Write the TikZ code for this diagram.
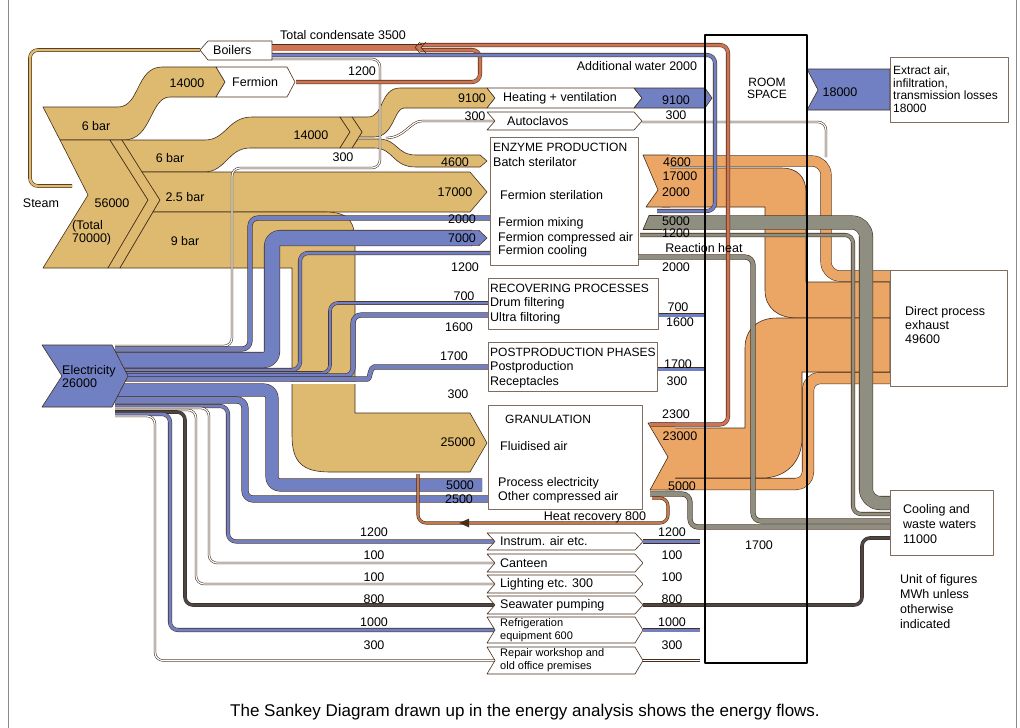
\documentclass[tikz,border=0pt]{standalone}
\usepackage{fontspec}
\setmainfont{Liberation Sans}
\usetikzlibrary{decorations.markings}
\definecolor{steamtan}{RGB}{221,186,112}
\definecolor{elecblue}{RGB}{113,128,194}
\definecolor{exhaust}{RGB}{235,166,102}
\definecolor{coolgray}{RGB}{142,143,128}
\definecolor{condred}{RGB}{206,116,82}
\definecolor{edgebrown}{RGB}{70,45,28}
\definecolor{seadark}{RGB}{72,72,74}
\begin{document}
\begin{tikzpicture}[x=1pt,y=-1pt,line join=round,
  font=\fontsize{12.5}{13}\selectfont,
  band/.style={draw=edgebrown,line width=.6pt},
  tanband/.style={band,fill=steamtan},
  elecband/.style={band,fill=elecblue},
  exband/.style={band,fill=exhaust},
  flow/.style 2 args={draw=edgebrown,line width=.55pt,double=#1,double distance=#2,rounded corners=8pt},
  tagbox/.style={band,fill=white},
  box/.style={draw=edgebrown!70,fill=white,line width=.7pt,inner sep=0pt,anchor=north west},
  txt/.style={inner sep=0pt,anchor=west,align=left},
  head/.style={txt,font=\fontsize{12}{13}\selectfont},
  num/.style={inner sep=0pt}]
\useasboundingbox (0,0) rectangle (1020,728);
\fill[white] (0,0) rectangle (1020,728);
\draw[black!45] (8,0) -- (8,728) (1016,0) -- (1016,728);

% steam 70000
\draw[flow={steamtan}{2.5}] (200,50) -- (30,50) -- (30,186) -- (72,186);
\draw[tanband] (43,107) -- (118,107) .. controls (140,107) and (136,67) .. (162,67) -- (216,67) -- (225,82) -- (216,97) -- (170,97) .. controls (150,97) and (152,140) .. (124,140) -- (60,140) -- cycle;
\draw[tanband] (60,140) -- (110,140) -- (148,200) -- (108,268) -- (43,268) -- (88,195) -- cycle;
\draw[tanband] (110,140) -- (122,140) -- (160,200) -- (120,268) -- (108,268) -- (148,200) -- cycle;
\draw[tanband] (122,140) -- (205,140) .. controls (226,140) and (228,117) .. (252,117) -- (340,117) -- (350,132) -- (340,148) -- (250,148) .. controls (228,148) and (226,172) .. (204,172) -- (142,172) -- cycle;
\draw[tanband] (352,117) -- (368,117) .. controls (384,117) and (380,88) .. (400,88) -- (487,88) -- (495,98) -- (487,108) -- (404,108) .. controls (394,108) and (394,137) .. (374,137) -- (359,137) -- (362,132) -- cycle;
\draw[tanband] (358,139) -- (378,139) .. controls (398,139) and (396,155) .. (416,155) -- (480,155) -- (487,161) -- (480,167) -- (416,167) .. controls (392,167) and (394,148) .. (374,148) -- (352,148) -- cycle;
\draw[tanband] (340,117) -- (352,117) -- (362,132) -- (352,148) -- (340,148) -- (350,132) -- cycle;
\draw[tanband] (142,172) -- (470,172) -- (487,192) -- (470,212) -- (153,212) -- (160,200) -- cycle;
\draw[tanband] (153,212) -- (325,212) .. controls (350,212) and (355,222) .. (355,245) -- (355,413) -- (470,413) -- (487,443) -- (470,472) -- (330,472) .. controls (302,472) and (292,462) .. (292,435) -- (292,268) -- (120,268) -- cycle;
\draw[flow={white}{1.2}] (386,138) .. controls (405,138) and (410,121) .. (430,121) -- (495,121);
\draw[flow={white}{1.2}] (115,346) -| (232,168) -| (380,59) -- (272,59);

% electricity 26000
\foreach \yb/\xt/\yt/\w in {349/250/218/4, 370/300/253/3, 373/330/303/2.5, 376/353/315/4}
  \draw[flow={elecblue}{\w}] (115,\yb) -| (\xt,\yt) -- (490,\yt);
\draw[flow={elecblue}{4}] (115,379) -- (360,379) .. controls (370,379) and (370,367) .. (382,367) -- (490,367);
\draw[flow={elecblue}{15}] (115,360) -| (272,238) -- (472,238);
\fill[elecblue] (470,230.7) -- (479,230.7) -- (487,238) -- (479,245.3) -- (470,245.3) -- cycle;
\draw[band] (471,230.4) -- (479,230.4) -- (487,238) -- (479,245.6) -- (471,245.6);
\draw[flow={white}{1.2}] (115,383) -- (490,383);
\draw[flow={elecblue}{12}] (115,390) -| (272,485) -- (482,485);
\draw[flow={elecblue}{6}] (115,400) -| (245,499) -- (490,499);
\foreach \yt/\yb/\xv/\w/\col/\lv/\ly/\nm/\lbl [count=\i] in {
  533/550/228/3/elecblue/1200/532/instr/{Instrum. air etc.},
  554/572/209/1.2/white/100/555/cant/Canteen,
  575/593/196/1.2/white/100/577/light/{Lighting etc. 300},
  596/614/185/2.5/seadark/800/599/sea/{Seawater pumping},
  617/643/170/3/elecblue/1000/622/refr/{\fontsize{11}{12}\selectfont Refrigeration\\\fontsize{11}{12}\selectfont equipment 600},
  647/674/155/1.2/white/300/645/rep/{\fontsize{11}{12}\selectfont Repair workshop and\\\fontsize{11}{12}\selectfont old office premises}}
{
  \pgfmathsetmacro\ym{(\yt+\yb)/2}
  \draw[flow={\col}{\w}] (115,{404+2*\i}) -| (\xv,\ym) -- (495,\ym);
  \draw[tagbox] (487,\yt) -- (635,\yt) -- (643,\ym) -- (635,\yb) -- (487,\yb) -- (495,\ym) -- cycle;
  \node[txt] (\nm) at (500,\ym) {\lbl};
  \draw[flow={\col}{\w}] (\nm.east -| 643,\ym) -- (700,\ym);
  \node[num] (\nm l) at (374,\ly) {\lv};
  \node[num] (\nm r) at (672,\ly) {\lv};
}
\draw[flow={seadark}{2.5}] (700,605) -- (862,605) -- (862,538) -- (890,538);
\draw[elecband] (42,345) -- (112,345) -- (128,376) -- (112,407) -- (42,407) -- (62,376) -- cycle;
\node[txt] (elec) at (62,377) {Electricity\\26000};

% tags and process boxes
\draw[tagbox] (200,50) -- (208,41) -- (272,41) -- (272,60) -- (208,60) -- cycle;
\node[txt] (boil) at (213,50) {Boilers};
\draw[tagbox] (216,67) -- (287,67) -- (295,82) -- (287,97) -- (216,97) -- (225,82) -- cycle;
\node[txt] (ferm) at (232,82) {Fermion};
\draw[tagbox] (487,88) -- (634,88) -- (642,98) -- (634,108) -- (487,108) -- (495,98) -- cycle;
\node[txt] (heat) at (503,98) {Heating + ventilation};
\draw[tagbox] (487,112) -- (634,112) -- (642,121) -- (634,130) -- (487,130) -- (495,121) -- cycle;
\node[txt] (auto) at (507,121) {Autoclavos};
\draw[flow={white}{1.2}] (642,122) -| (826,157);
\node[box,minimum width=148,minimum height=128] (enz) at (490,137) {};
\node[box,minimum width=170,minimum height=51] (rec) at (488,278) {};
\node[box,minimum width=169,minimum height=49] (post) at (488,342) {};
\node[box,minimum width=154,minimum height=104] (gran) at (488,405) {};
\foreach \x/\y/\lbl [count=\i] in {493/162/Batch sterilator,
  500/195/Fermion sterilation, 498/223/Fermion mixing, 498/238/Fermion compressed air,
  498/251/Fermion cooling, 490/303/Drum filtering,
  490/318/Ultra filtoring, 490/367/Postproduction,
  490/382/Receptacles, 500/446/Fluidised air,
  498/483/Process electricity, 498/497/Other compressed air}
  \node[txt] (bt\i) at (\x,\y) {\lbl};
\node[head] (enzh) at (493,147) {ENZYME PRODUCTION};
\node[head] (rech) at (490,288) {RECOVERING PROCESSES};
\node[head] (posth) at (490,352) {POSTPRODUCTION PHASES};
\node[head] (granh) at (505,419) {GRANULATION};
\draw[flow={elecblue}{3}] (rec.east |- 0,315) -- (705,315);
\draw[flow={elecblue}{3}] (post.east |- 0,369) -- (705,369);

% exhaust 49600 and cooling water 11000
\draw[flow={exhaust}{10},rounded corners=14pt] (664,161) -| (826,276) -- (890,276);
\draw[exband] (662,168) -- (782,168) .. controls (797,168) and (806,177) .. (806,192) -- (806,282) -- (890,282) -- (890,318) -- (797,318) .. controls (778,318) and (765,308) .. (765,290) -- (765,207) -- (662,207) -- cycle;
\fill[exhaust] (643,155) -- (670,155) -- (670,207) -- (646,207) -- (658,190) -- cycle;
\draw[band] (670,155) -- (643,155) -- (658,190) -- (646,207) -- (670,207);
\draw[flow={exhaust}{11},rounded corners=12pt] (665,484) -| (808,378) -- (890,378);
\draw[exband] (668,428) -- (745,428) -- (745,348) .. controls (745,330) and (757,318) .. (777,318) -- (890,318) -- (890,372) -- (802,372) -- (802,438) .. controls (802,462) and (786,478) .. (762,478) -- (668,478) -- cycle;
\fill[exhaust] (648,423) -- (675,423) -- (675,490) -- (650,490) -- (668,457) -- cycle;
\draw[band] (675,423) -- (648,423) -- (668,457) -- (650,490) -- (675,490);
\draw[flow={coolgray}{13},rounded corners=14pt] (655,222.5) -| (866,503) -- (890,503);
\fill[coolgray] (649,215.6) -- (662,215.6) -- (662,229.4) -- (643,229.4) -- cycle;
\draw[band] (662,215.5) -- (649,215.5) -- (643,229.5) -- (662,229.5);
\draw[flow={coolgray}{3}] (640,235) -| (853,514) -- (890,514);
\draw[flow={coolgray}{4}] (638,257) -| (753,521) -- (890,521);
\draw[flow={coolgray}{4}] (650,494) -| (690,527) -- (890,527);
\draw[flow={condred!60!brown}{2}] (652,498) -| (668,523) -- (418,523) -- (418,474);
\path[decoration={markings,mark=at position 0.72 with {\fill[edgebrown] (5,0) -- (-5,-4.5) -- (-5,4.5) -- cycle;}},decorate]
  (652,498) -| (668,523) -- (418,523) -- (418,474);

% condensate 3500 and additional water
\draw[flow={condred}{3}] (650,424.5) -- (728,424.5) -- (728,45) -- (420,45);
\draw[flow={condred}{3}] (296,82) -- (480,82) -- (480,50) -- (420,50);
\draw[flow={condred}{6}] (422,47.5) -- (272,47.5);
\draw[band] (426,42) -- (421,47.5) -- (426,53) (420,42) -- (415,47.5) -- (420,53);
\draw[flow={elecblue}{3}] (657,211) -- (715,211) -- (715,55) -- (272,55);
\draw[elecband] (634,88) -- (705,88) -- (712,98) -- (705,108) -- (634,108) -- (642,98) -- cycle;
\draw[elecband] (807,69) -- (890,69) -- (890,110) -- (807,110) -- (818,90) -- cycle;

% sinks
\node[box,minimum width=118,minimum height=65] (extr) at (890,57) {};
\node[txt,font=\fontsize{12}{12.5}\selectfont] (extt) at (893,89) {Extract air,\\infiltration,\\transmission losses\\18000};
\node[box,minimum width=117,minimum height=116] (dpe) at (890,270) {};
\node[txt,font=\fontsize{12.5}{14}\selectfont] (dpet) at (905,325) {Direct process\\exhaust\\49600};
\node[box,minimum width=103,minimum height=65] (cool) at (890,490) {};
\node[txt,font=\fontsize{12.5}{15}\selectfont] (coolt) at (903,524) {Cooling and\\waste waters\\11000};
\node[txt,font=\fontsize{12.5}{15}\selectfont] (unit) at (900,602) {Unit of figures\\MWh unless\\otherwise\\indicated};
\draw[line width=2.4pt] (705,35) rectangle (807,663);
\node[align=center,font=\fontsize{12}{12}\selectfont] (room) at (767,88) {ROOM\\SPACE};

% figures
\foreach \x/\y/\lbl [count=\i] in {472/98/9100, 475/116/300, 455/162/4600, 455/192/17000,
  462/219/2000, 462/238/7000, 465/267/1200, 464/296/700, 459/327/1600, 454/356/1700,
  458/394/300, 458/442/25000, 460/485/5000, 459/499/2500, 676/100/9100, 676/115/300,
  677/162/4600, 680/176/17000, 676/192/2000, 676/221/5000, 676/233/1200, 676/267/2000,
  678/307/700, 680/322/1600, 678/364/1700, 677/381/300, 676/414/2300, 680/436/23000,
  682/486/5000, 759/545/1700, 840/92/18000, 362/71/1200, 187/83/14000, 311/135/14000,
  343/157/300, 112/203/56000}
  \node[num] (n\i) at (\x,\y) {\lbl};
\node[num] (bar1) at (96,126) {6 bar};
\node[num] (bar2) at (170,158) {6 bar};
\node[num] (bar3) at (185,197) {2.5 bar};
\node[num] (bar4) at (185,241) {9 bar};
\node[txt] (tot) at (72,233) {(Total\\70000)};
\node[num] (steam) at (41,203) {Steam};
\node[num] (cond) at (343,35) {Total condensate 3500};
\node[num] (addw) at (637,66) {Additional water 2000};
\node[num] (react) at (704,248) {Reaction heat};
\node[num] (hrec) at (595,517) {Heat recovery 800};
\node[font=\fontsize{17}{19}\selectfont] (cap) at (525,712) {The Sankey Diagram drawn up in the energy analysis shows the energy flows.};
\end{tikzpicture}
\end{document}
